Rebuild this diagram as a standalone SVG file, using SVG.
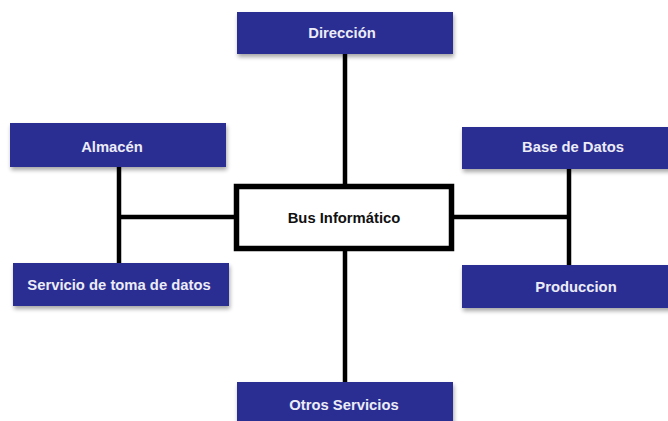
<svg xmlns="http://www.w3.org/2000/svg" width="668" height="421" viewBox="0 0 668 421">
<defs>
<filter id="sh" x="-10%" y="-20%" width="120%" height="160%">
<feGaussianBlur in="SourceAlpha" stdDeviation="2"/>
<feOffset dx="1" dy="3"/>
<feComponentTransfer><feFuncA type="linear" slope="0.35"/></feComponentTransfer>
<feMerge><feMergeNode/><feMergeNode in="SourceGraphic"/></feMerge>
</filter>
</defs>
<style>
.box{fill:#2c2d93;filter:url(#sh)}
.lbl{font-family:"Liberation Sans",Arial,sans-serif;font-weight:bold;font-size:14.8px;fill:#ececf6;text-anchor:middle}
.bus{font-family:"Liberation Sans",Arial,sans-serif;font-weight:bold;font-size:14.8px;fill:#111;text-anchor:middle}
.ln{stroke:#000;stroke-width:4.5;fill:none}
</style>
<rect width="668" height="421" fill="#fff"/>
<g id="connectors">
<line class="ln" x1="345" y1="54" x2="345" y2="186"/>
<line class="ln" x1="345" y1="250" x2="345" y2="382"/>
<line class="ln" x1="119" y1="167" x2="119" y2="263"/>
<line class="ln" x1="117" y1="217" x2="236" y2="217"/>
<line class="ln" x1="569" y1="169" x2="569" y2="265"/>
<line class="ln" x1="452" y1="217" x2="571" y2="217"/>
</g>
<g id="direccion">
<rect class="box" x="237" y="12" width="216" height="42"/>
<text class="lbl" x="342" y="38">Dirección</text>
</g>
<g id="almacen">
<rect class="box" x="10" y="123" width="216" height="44"/>
<text class="lbl" x="112" y="152">Almacén</text>
</g>
<g id="servicio">
<rect class="box" x="13" y="263" width="216" height="43"/>
<text class="lbl" x="119" y="290">Servicio de toma de datos</text>
</g>
<g id="bus">
<rect x="236.5" y="186.5" width="215" height="62" fill="#fff" stroke="#000" stroke-width="5.5"/>
<text class="bus" x="344" y="223">Bus Informático</text>
</g>
<g id="base-datos">
<rect class="box" x="462" y="127" width="210" height="42"/>
<text class="lbl" x="573" y="152">Base de Datos</text>
</g>
<g id="produccion">
<rect class="box" x="462" y="265" width="210" height="43"/>
<text class="lbl" x="576" y="292">Produccion</text>
</g>
<g id="otros">
<rect class="box" x="237" y="382" width="216" height="45"/>
<text class="lbl" x="344" y="410">Otros Servicios</text>
</g>
</svg>
